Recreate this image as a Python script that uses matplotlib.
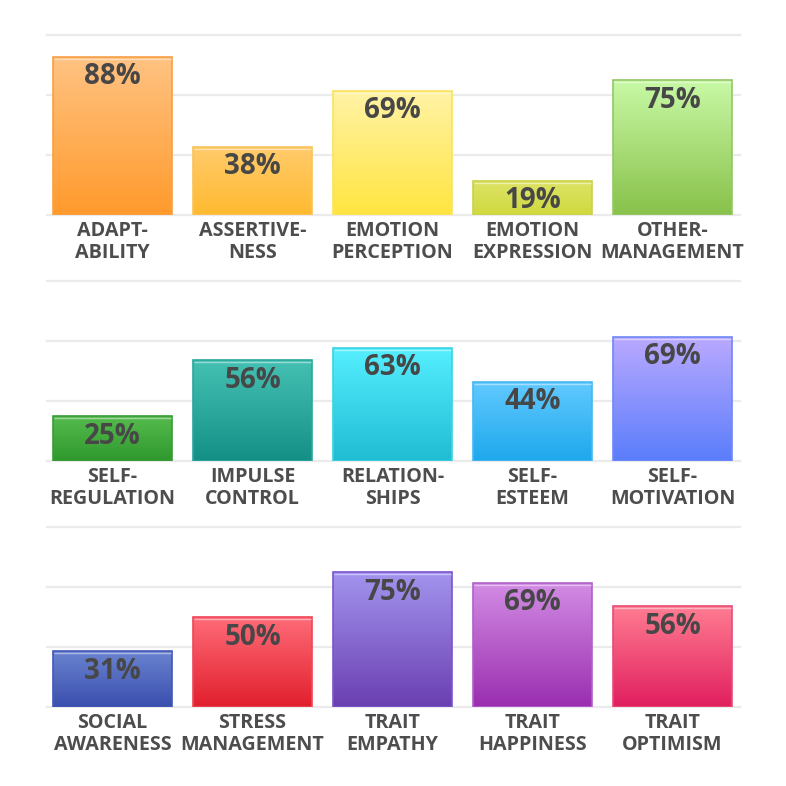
import matplotlib.pyplot as plt
import matplotlib.transforms as mtransforms
import numpy as np
from matplotlib.colors import to_rgb

plt.rcParams['font.family'] = ['Open Sans', 'DejaVu Sans']

# three rows of five traits each
labels_1 = ['ADAPT-\nABILITY', 'ASSERTIVE-\nNESS', 'EMOTION\nPERCEPTION', 'EMOTION\nEXPRESSION', 'OTHER-\nMANAGEMENT']
values_1 = [88, 38, 69, 19, 75]
labels_2 = ['SELF-\nREGULATION', 'IMPULSE\nCONTROL', 'RELATION-\nSHIPS', 'SELF-\nESTEEM', 'SELF-\nMOTIVATION']
values_2 = [25, 56, 63, 44, 69]
labels_3 = ['SOCIAL\nAWARENESS', 'STRESS\nMANAGEMENT', 'TRAIT\nEMPATHY', 'TRAIT\nHAPPINESS', 'TRAIT\nOPTIMISM']
values_3 = [31, 50, 75, 69, 56]

# gradient colours (top, bottom, edge) per bar
colors_1 = [('#ffc383', '#ff9a2c', '#f7a045'),
            ('#ffcb6c', '#ffba30', '#f9c35a'),
            ('#fff3a6', '#ffe540', '#fbe35a'),
            ('#dde366', '#cfd93f', '#c9d24b'),
            ('#c8f9a6', '#88c14a', '#94c765')]
colors_2 = [('#55bb4d', '#2f982d', '#3a9d36'),
            ('#45c1b3', '#138f86', '#2aa79c'),
            ('#55efff', '#20bcd3', '#3ad2e6'),
            ('#62caff', '#1ea8ec', '#45b8f2'),
            ('#bba9ff', '#5a7dfb', '#6f88f5')]
colors_3 = [('#6a83cf', '#3a4fae', '#4358b9'),
            ('#ff6b78', '#e11f2d', '#ef4757'),
            ('#a394ee', '#6a3fb1', '#7b55cc'),
            ('#d28ce4', '#9a2eaf', '#b060c8'),
            ('#ff7c91', '#e11f5f', '#e54d77')]

rows = [(labels_1, values_1, colors_1),
        (labels_2, values_2, colors_2),
        (labels_3, values_3, colors_3)]

fig = plt.figure(figsize=(7.86, 7.86), dpi=100)
fig.patch.set_facecolor('white')

bottoms = [1 - 215 / 786, 1 - 461 / 786, 1 - 707 / 786]
text_color = '#474747'

for (labels, values, cols), bottom in zip(rows, bottoms):
    ax = fig.add_axes([47 / 786, bottom, 693 / 786, 180 / 786])
    x = np.arange(len(values))
    ax.set_xlim(-0.468, 4.482)
    ax.set_ylim(0, 100)
    for g in [0, 100 / 3, 200 / 3, 100]:
        ax.axhline(g, color='#ebebeb', lw=1.6, zorder=0, clip_on=False)

    bars = ax.bar(x, values, width=0.85, color='none', zorder=2)
    for bar, v, (top_c, bot_c, edge_c) in zip(bars, values, cols):
        t = np.array(to_rgb(top_c))
        b = np.array(to_rgb(bot_c))
        k = np.linspace(0, 1, 256)[:, None]
        grad = (t * (1 - k) + b * k)[:, None, :]
        x0 = bar.get_x()
        x1 = x0 + bar.get_width()
        im = ax.imshow(grad, extent=(x0, x1, 0, v), aspect='auto',
                       interpolation='bilinear', zorder=2)
        im.set_clip_path(bar)
        bar.set_edgecolor(edge_c)
        bar.set_linewidth(1.2)
        bar.set_zorder(3)
        # thin light line just under the top edge
        off = mtransforms.offset_copy(ax.transData, fig=fig, x=0, y=-2.2, units='dots')
        ax.plot([x0 + 0.01, x1 - 0.01], [v, v], color='white', alpha=0.45,
                lw=1.0, transform=off, zorder=4, solid_capstyle='butt')
        ax.annotate(f'{v}%', (bar.get_x() + bar.get_width() / 2, v),
                    xytext=(0, -14.5), textcoords='offset points',
                    ha='center', va='center', fontsize=20, fontweight='bold',
                    color=text_color, zorder=5)

    ax.set_xticks(x)
    ax.set_xticklabels(labels, fontsize=14.2, fontweight='bold', color='#4d4d4d',
                       linespacing=1.1)
    ax.tick_params(axis='x', length=0, pad=4.5)
    ax.set_yticks([])
    for s in ax.spines.values():
        s.set_visible(False)

plt.savefig('out.png', dpi=100, facecolor='white')
